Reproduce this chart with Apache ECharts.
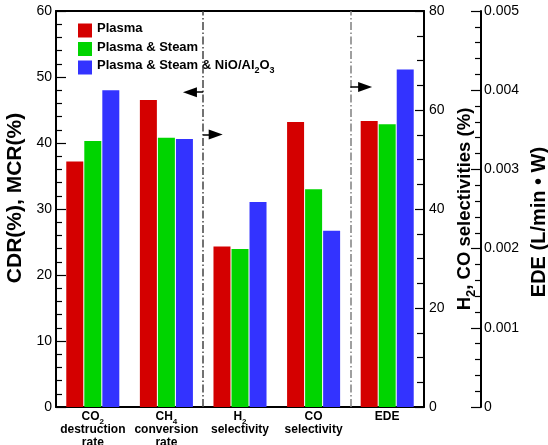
<!DOCTYPE html>
<html>
<head>
<meta charset="utf-8">
<script src="https://cdn.jsdelivr.net/npm/echarts@6/dist/echarts.min.js"></script>
<style>
  html, body { margin: 0; padding: 0; background: #fff; }
  #chart { width: 548px; height: 445px; }
</style>
</head>
<body>
<div id="chart"></div>
<script>
// categories and the axis each category is read on (0 left %, 1 H2/CO %, 2 EDE)
var categories = ['CO2\ndestruction\nrate', 'CH4\nconversion\nrate', 'H2\nselectivity', 'CO\nselectivity', 'EDE']
var axisOfCategory = [0, 0, 1, 1, 2]

var seriesNames = ['Plasma', 'Plasma & Steam', 'Plasma & Steam & NiO/Al2O3']
var plasma = [37.2, 46.5, 32.4, 57.6, 0.00361]
var plasmaSteam = [40.3, 40.8, 31.9, 44.0, 0.00357]
var plasmaSteamNiO = [48.0, 40.6, 41.4, 35.6, 0.00426]
var colors = ['#d40000', '#00d400', '#3333ff']

var leftTicks = { min: 0, max: 60, interval: 10 }
var midTicks = { min: 0, max: 80, interval: 20 }
var edeTicks = { min: 0, max: 0.005, interval: 0.001 }

var FONT = '"Liberation Sans", Arial, sans-serif'

// turn "CO2" into rich text with a subscript digit
function subText(str) {
  return str.split('\n').map(function (line) {
    return '{b|' + line.replace(/([A-Za-z])(\d)/g, '$1}{s|$2}{b|') + '}'
  }).join('\n')
}

function richSub(size, lh) {
  return {
    b: { fontSize: size, fontWeight: 'bold', fontFamily: FONT, color: '#000', lineHeight: lh, verticalAlign: 'bottom', padding: [0, 0, 3, 0] },
    s: { fontSize: Math.round(size * 0.7), fontWeight: 'bold', fontFamily: FONT, color: '#000', lineHeight: lh, verticalAlign: 'bottom' }
  }
}

var chart = echarts.init(document.getElementById('chart'))

var valueSets = [plasma, plasmaSteam, plasmaSteamNiO]
var series = []
valueSets.forEach(function (vals, si) {
  for (var ax = 0; ax < 3; ax++) {
    series.push({
      name: seriesNames[si],
      type: 'bar',
      stack: 'grp' + si,
      xAxisIndex: 0,
      yAxisIndex: ax,
      barWidth: 17,
      barGap: '6%',
      itemStyle: { color: colors[si] },
      data: vals.map(function (v, i) { return axisOfCategory[i] === ax ? v : 0 })
    })
  }
})

// dash-dot dividers
series.push({
  type: 'line',
  xAxisIndex: 1,
  yAxisIndex: 0,
  data: [],
  silent: true,
  markLine: {
    silent: true,
    symbol: 'none',
    label: { show: false },
    data: [
      { xAxis: 2, lineStyle: { color: '#444', width: 1.5, type: [8, 2.5, 1.5, 2.5] } },
      { xAxis: 4, lineStyle: { color: '#808080', width: 1.5, type: [8, 2.5, 1.5, 2.5] } }
    ]
  }
})

// arrows pointing at the axis to read
series.push({
  type: 'line',
  xAxisIndex: 1,
  yAxisIndex: 0,
  data: [],
  silent: true,
  markLine: {
    silent: true,
    symbol: ['none', 'triangle'],
    symbolSize: [10, 14],
    label: { show: false },
    lineStyle: { color: '#000', width: 1.5, type: 'solid' },
    data: [
      [{ coord: [2, 47.7] }, { coord: [1.82, 47.7] }],
      [{ coord: [2, 41.3] }, { coord: [2.17, 41.3] }],
      [{ coord: [4, 48.5] }, { coord: [4.2, 48.5] }]
    ]
  }
})

var axisLineStyle = { show: true, lineStyle: { color: '#000', width: 2 } }
var tickLabel = { color: '#000', fontSize: 14, fontFamily: FONT }

chart.setOption({
  backgroundColor: '#ffffff',
  animation: false,
  grid: { left: 56, right: 124, top: 11, bottom: 38, outerBoundsMode: 'none' },
  legend: {
    orient: 'vertical',
    left: 73,
    top: 17,
    itemWidth: 14,
    itemHeight: 14,
    itemGap: 2.5,
    icon: 'rect',
    data: seriesNames,
    formatter: function (name) { return subText(name) },
    textStyle: { rich: richSub(13, 15) }
  },
  xAxis: [{
    type: 'category',
    data: categories,
    axisLine: axisLineStyle,
    axisTick: { show: false },
    axisLabel: {
      margin: 6,
      interval: 0,
      formatter: function (v) { return subText(v) },
      rich: richSub(12, 13)
    }
  }, {
    type: 'value',
    position: 'top',
    min: 0,
    max: 5,
    axisLine: { show: true, onZero: false, lineStyle: { color: '#000', width: 2 } },
    axisTick: { show: false },
    axisLabel: { show: false },
    splitLine: { show: false }
  }],
  yAxis: [{
    type: 'value',
    position: 'left',
    min: leftTicks.min, max: leftTicks.max, interval: leftTicks.interval,
    name: 'CDR(%), MCR(%)',
    nameLocation: 'middle',
    nameRotate: 90,
    nameGap: 27,
    nameTextStyle: { color: '#000', fontSize: 21, fontWeight: 'bold', fontFamily: FONT, padding: [0, 0, 0, 22] },
    axisLine: axisLineStyle,
    axisTick: { show: true, inside: true, length: 10, lineStyle: { color: '#000', width: 1.2 } },
    minorTick: { show: true, splitNumber: 5, length: 6, lineStyle: { color: '#000', width: 1.2 } },
    axisLabel: Object.assign({ margin: 4 }, tickLabel),
    splitLine: { show: false }
  }, {
    type: 'value',
    position: 'right',
    min: midTicks.min, max: midTicks.max, interval: midTicks.interval,
    name: '{b|H}{s|2}{b|, CO selectivities (%)}',
    nameLocation: 'middle',
    nameRotate: 90,
    nameGap: 25,
    nameTextStyle: { rich: richSub(18.5, 20) },
    axisLine: axisLineStyle,
    axisTick: { show: true, inside: true, length: 9, lineStyle: { color: '#000', width: 1.2 } },
    minorTick: { show: true, splitNumber: 4, length: 7, lineStyle: { color: '#000', width: 1.2 } },
    axisLabel: Object.assign({ margin: 5 }, tickLabel),
    splitLine: { show: false }
  }, {
    type: 'value',
    position: 'right',
    offset: 57,
    min: edeTicks.min, max: edeTicks.max, interval: edeTicks.interval,
    name: 'EDE (L/min \u2022 W)',
    nameLocation: 'middle',
    nameRotate: 90,
    nameGap: 38,
    nameTextStyle: { color: '#000', fontSize: 20, fontWeight: 'bold', fontFamily: FONT, padding: [0, 26, 0, 0] },
    axisLine: axisLineStyle,
    axisTick: { show: true, inside: true, length: 10, lineStyle: { color: '#000', width: 1.2 } },
    minorTick: { show: true, splitNumber: 5, length: 6, lineStyle: { color: '#000', width: 1.2 } },
    axisLabel: Object.assign({ margin: 3 }, tickLabel),
    splitLine: { show: false }
  }],
  series: series
})
</script>
</body>
</html>
